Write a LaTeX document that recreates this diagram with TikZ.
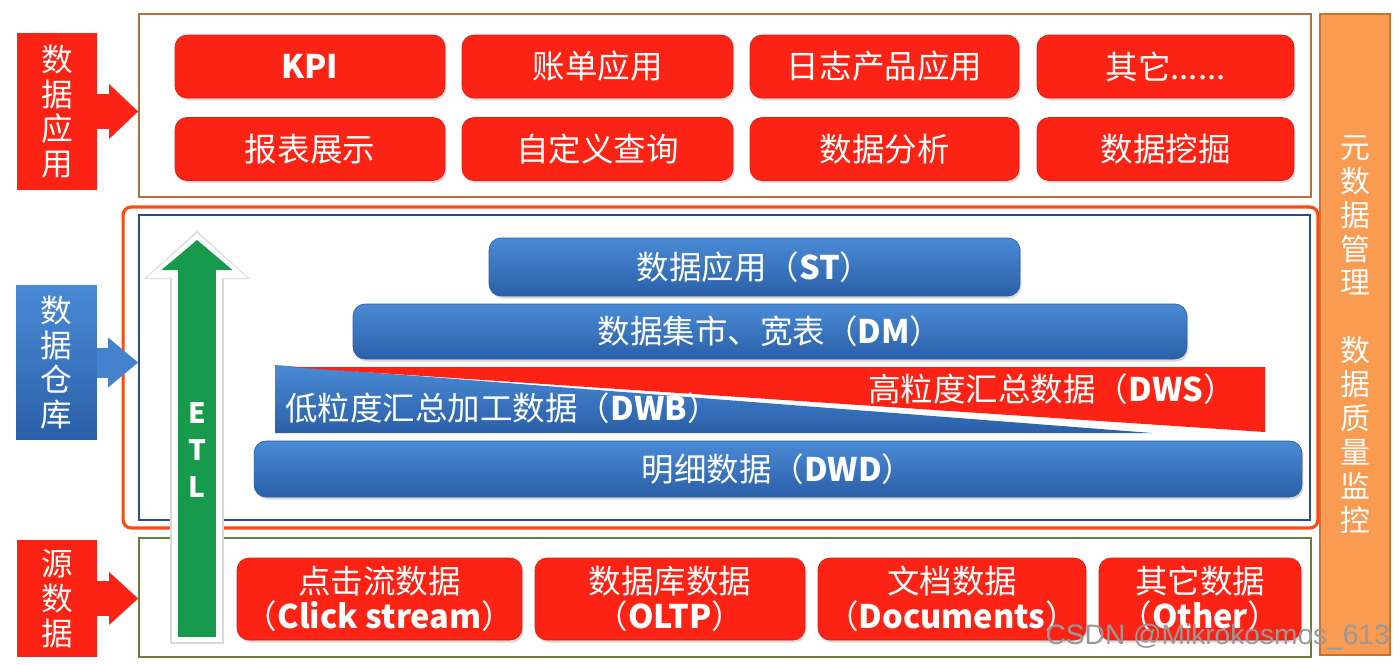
\documentclass[tikz,border=0pt]{standalone}
\usepackage{fontspec}
\setmainfont{Noto Sans CJK SC}
\newfontfamily\wmfont{Liberation Sans}
\usetikzlibrary{arrows.meta,shadows}
\definecolor{appred}{HTML}{FD2314}
\definecolor{barhi}{HTML}{4A8BD6}
\definecolor{barlo}{HTML}{2A5FA8}
\definecolor{etlgreen}{HTML}{159B4B}
\definecolor{metaorange}{HTML}{F99B50}
\definecolor{metaedge}{HTML}{C8732F}
\definecolor{framebrown}{HTML}{B5703D}
\definecolor{frameorange}{HTML}{FF4B12}
\definecolor{framenavy}{HTML}{2C4C86}
\definecolor{frameolive}{HTML}{6A7E3A}

\begin{document}
\begin{tikzpicture}[
  x=0.02cm, y=-0.02cm,
  redbox/.style={rectangle, rounded corners=0.24cm, fill=appred, draw=appred!85!black, text=white, minimum height=1.26cm, inner sep=0pt, font=\fontsize{18.5}{21}\selectfont, drop shadow={shadow xshift=0.03cm, shadow yshift=-0.05cm, opacity=0.3}},
  srcbox/.style={redbox, minimum height=1.64cm, align=center, font=\fontsize{18.5}{20}\selectfont},
  layerbar/.style={rectangle, rounded corners=0.24cm, top color=barhi, bottom color=barlo, draw=barlo, text=white, minimum height=1.12cm, inner sep=0pt, font=\fontsize{18.5}{21}\selectfont, drop shadow={shadow xshift=0.03cm, shadow yshift=-0.05cm, opacity=0.3}},
  bandtext/.style={text=white, inner sep=0pt, font=\fontsize{18.5}{21}\selectfont},
  sidelabel/.style={rectangle, text=white, align=center, inner sep=0pt, minimum width=1.6cm, font=\fontsize{18}{19.8}\selectfont},
  panel/.style={rectangle, inner sep=0pt, line width=1.2pt},
  fatarrow/.style={line width=0.7cm, -{Triangle[length=0.58cm, width=1.1cm, line width=0pt]}},
]
\useasboundingbox (0,0) rectangle (1400,664);

\node[sidelabel, fill=appred, minimum height=3.14cm] (applbl) at (57,111.5) {数\\据\\应\\用};
\node[sidelabel, top color=barhi, bottom color=barlo, minimum width=1.62cm, minimum height=3.1cm] (dwlbl) at (56.5,362.5) {数\\据\\仓\\库};
\node[sidelabel, fill=appred, minimum height=2.34cm] (srclbl) at (57,598.5) {源\\数\\据};

\node[panel, draw=framebrown, minimum width=23.44cm, minimum height=3.66cm] (appwin) at (725,105.5) {};
\node[panel, draw=frameorange, line width=1.8pt, rounded corners=0.16cm, minimum width=23.9cm, minimum height=6.42cm] (dwouter) at (720.5,367.5) {};
\node[panel, draw=framenavy, minimum width=23.42cm, minimum height=6.1cm] (dwwin) at (724.5,367.5) {};
\node[panel, draw=frameolive, minimum width=23.44cm, minimum height=2.38cm] (srcwin) at (725,597.5) {};
\node[panel, fill=metaorange, draw=metaedge, minimum width=1.4cm, minimum height=12.82cm, text=white, align=center, font=\fontsize{17}{19.3}\selectfont] (meta) at (1355,334.5) {元\\数\\据\\管\\理\\[19.3pt]数\\据\\质\\量\\监\\控};

\draw[fatarrow, appred] (applbl.east) -- (applbl.east -| appwin.west);
\draw[fatarrow, barhi!80!barlo, line width=0.6cm, -{Triangle[length=0.6cm, width=1.0cm, line width=0pt]}] (dwlbl.east) -- (dwlbl.east -| dwwin.west);
\draw[fatarrow, appred, -{Triangle[length=0.58cm, width=1.06cm, line width=0pt]}] (srclbl.east) -- (srclbl.east -| srcwin.west);

\node[redbox, minimum width=5.4cm] (kpi) at (310,66.5) {\textbf{KPI}};
\node[redbox, minimum width=5.42cm] (bill) at (597.5,66.5) {账单应用};
\node[redbox, minimum width=5.38cm] (logapp) at (884.5,66.5) {日志产品应用};
\node[redbox, minimum width=5.14cm] (otherapp) at (1165.5,66.5) {其它......};
\node[redbox, minimum width=5.4cm] (report) at (310,149) {报表展示};
\node[redbox, minimum width=5.42cm] (query) at (597.5,149) {自定义查询};
\node[redbox, minimum width=5.38cm] (analysis) at (884.5,149) {数据分析};
\node[redbox, minimum width=5.14cm] (mining) at (1165.5,149) {数据挖掘};

\node[layerbar, minimum width=10.62cm, minimum height=1.16cm] (st) at (754.5,267) {数据应用（\textbf{ST}）};
\node[layerbar, minimum width=16.68cm, minimum height=1.1cm] (dm) at (770,331.5) {数据集市、宽表（\textbf{DM}）};
\shade[top color=barhi, bottom color=barlo] (275,365) -- (288,366) -- (1152,433) -- (275,433) -- cycle;
\fill[appred] (288,367) -- (1265,367) -- (1265,432) -- cycle;
\node[bandtext, anchor=west] (dwb) at (285,408) {低粒度汇总加工数据（\textbf{DWB}）};
\node[bandtext] (dws) at (1052,389) {高粒度汇总数据（\textbf{DWS}）};
\node[layerbar, minimum width=20.96cm] (dwd) at (778,469) {明细数据（\textbf{DWD}）};

\node[srcbox, minimum width=5.7cm] (click) at (379.5,599) {点击流数据\\（\textbf{Click stream}）};
\node[srcbox, minimum width=5.4cm] (oltp) at (670,599) {数据库数据\\（\textbf{OLTP}）};
\node[srcbox, minimum width=5.36cm] (docs) at (952,599) {文档数据\\（\textbf{Documents}）};
\node[srcbox, minimum width=4.04cm] (othersrc) at (1200,599) {其它数据\\（\textbf{Other}）};

\coordinate (etlfoot) at (197,642);
\coordinate (etltip) at (197,233);
\draw[black!15, line width=1.08cm, shorten <=-0.04cm, shorten >=-0.04cm, -{Triangle[length=0.96cm, width=2.12cm, line width=0pt]}] (etlfoot) -- (etltip);
\draw[white, line width=1.0cm, -{Triangle[length=0.9cm, width=2.02cm, line width=0pt]}] (etlfoot) -- (etltip);
\draw[etlgreen, line width=0.76cm, shorten <=0.1cm, shorten >=0.14cm, -{Triangle[length=0.6cm, width=1.42cm, line width=0pt]}] (etlfoot) -- (etltip);
\node[text=white, align=center, font=\bfseries\fontsize{16}{21}\selectfont] (etl) at (197,450) {E\\T\\L};

\node[anchor=east, text=black!40, font=\wmfont\fontsize{16}{16}\selectfont] (mark) at (1396,637) {CSDN @Mikrokosmos\_613};
\end{tikzpicture}
\end{document}
